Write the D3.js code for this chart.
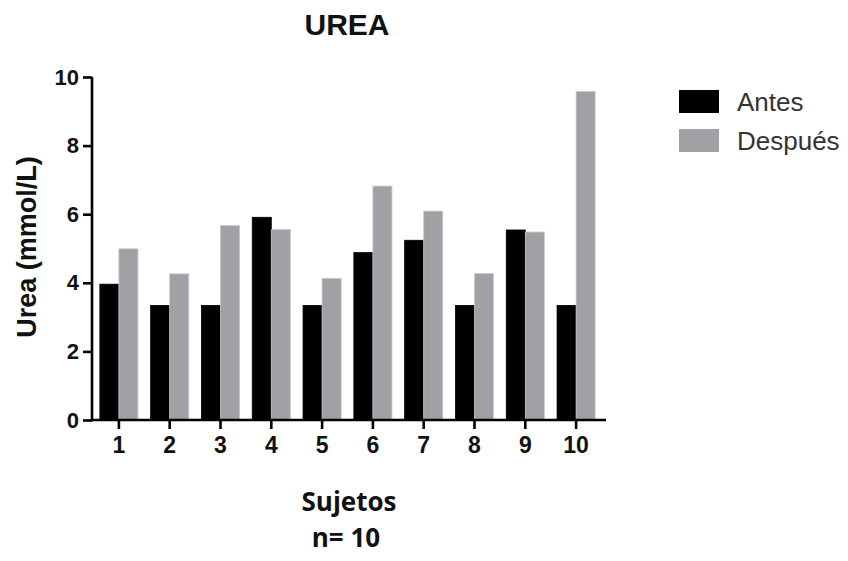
<!DOCTYPE html>
<html>
<head>
<meta charset="utf-8">
<script src="https://cdn.jsdelivr.net/npm/d3@7"></script>
<style>
  html, body { margin: 0; padding: 0; background: #fff; }
  svg { display: block; }
</style>
</head>
<body>
<div id="chart"></div>
<script>
// Urea concentration per subject, before and after
const subjects = ["1", "2", "3", "4", "5", "6", "7", "8", "9", "10"];
const antes   = [3.96, 3.34, 3.34, 5.91, 3.34, 4.88, 5.24, 3.34, 5.54, 3.34];
const despues = [4.99, 4.26, 5.67, 5.55, 4.13, 6.82, 6.09, 4.27, 5.48, 9.58];
const seriesNames = ["Antes", "Después"];
const seriesColors = ["#000000", "#a1a0a5"];
const yTicks = [0, 2, 4, 6, 8, 10];

const W = 848, H = 561;
const svg = d3.select("#chart").append("svg")
  .attr("width", W).attr("height", H);

const x0 = 92, x1 = 606, yTop = 77, yBot = 420;

const x = d3.scaleBand().domain(subjects)
  .range([93.5, 601.5]).paddingInner(0.25).paddingOuter(0.125);
const xs = d3.scaleBand().domain(seriesNames).range([0, x.bandwidth()]);
const y = d3.scaleLinear().domain([0, 10]).range([yBot, yTop]);

const rows = subjects.map((s, i) => ({ s, vals: [antes[i], despues[i]] }));

// bars
const g = svg.append("g");
rows.forEach(r => {
  r.vals.forEach((v, j) => {
    g.append("rect")
      .attr("x", x(r.s) + xs(seriesNames[j]))
      .attr("y", y(v))
      .attr("width", xs.bandwidth())
      .attr("height", y(0) - y(v))
      .attr("fill", seriesColors[j])
      .attr("stroke", j === 0 ? "#000" : "#c8c8cc")
      .attr("stroke-width", 0.8);
  });
});

// y axis
const yAxis = svg.append("g")
  .attr("transform", `translate(${x0},0)`)
  .call(d3.axisLeft(y).tickValues(yTicks).tickSize(9).tickPadding(4));
yAxis.select(".domain").attr("d", `M0,${yTop}V${yBot + 1.2}`);

// x axis
const xAxis = svg.append("g")
  .attr("transform", `translate(0,${yBot})`)
  .call(d3.axisBottom(x).tickSize(9).tickPadding(8));
xAxis.select(".domain").attr("d", `M${x0 - 1.2},0H${x1}`);

[yAxis, xAxis].forEach(a => {
  a.selectAll(".domain").attr("stroke", "#000").attr("stroke-width", 2.6);
  a.selectAll(".tick line").attr("stroke", "#000").attr("stroke-width", 2.6);
  a.selectAll(".tick text")
    .attr("fill", "#111")
    .style("font-family", "'Liberation Sans', Arial, sans-serif")
    .style("font-weight", "bold");
});
yAxis.selectAll(".tick text").style("font-size", "22px");
xAxis.selectAll(".tick text").style("font-size", "23px");

// title
svg.append("text")
  .attr("x", 347).attr("y", 35)
  .attr("text-anchor", "middle")
  .style("font-family", "'Liberation Sans', Arial, sans-serif")
  .style("font-weight", "bold").style("font-size", "30px")
  .attr("fill", "#111")
  .text("UREA");

// y axis title
svg.append("text")
  .attr("transform", "translate(36,247) rotate(-90)")
  .attr("text-anchor", "middle")
  .style("font-family", "'Liberation Sans', Arial, sans-serif")
  .style("font-weight", "bold").style("font-size", "27px")
  .attr("fill", "#111")
  .text("Urea (mmol/L)");

// x axis title and sample size
svg.append("text")
  .attr("x", 349).attr("y", 511)
  .attr("text-anchor", "middle")
  .style("font-family", "'Open Sans', sans-serif")
  .style("font-weight", "bold").style("font-size", "26px")
  .attr("fill", "#111")
  .text("Sujetos");
svg.append("text")
  .attr("x", 346).attr("y", 547)
  .attr("text-anchor", "middle")
  .style("font-family", "'Open Sans', sans-serif")
  .style("font-weight", "bold").style("font-size", "26px")
  .attr("fill", "#111")
  .text("n= 10");

// legend
const leg = svg.append("g");
seriesNames.forEach((n, i) => {
  const ly = 90 + i * 39;
  leg.append("rect")
    .attr("x", 679).attr("y", ly).attr("width", 40).attr("height", 23)
    .attr("fill", seriesColors[i]);
  leg.append("text")
    .attr("x", 737).attr("y", ly + 21)
    .style("font-family", "'Liberation Sans', Arial, sans-serif")
    .style("font-size", "26px")
    .attr("fill", "#333")
    .text(n);
});
</script>
</body>
</html>
